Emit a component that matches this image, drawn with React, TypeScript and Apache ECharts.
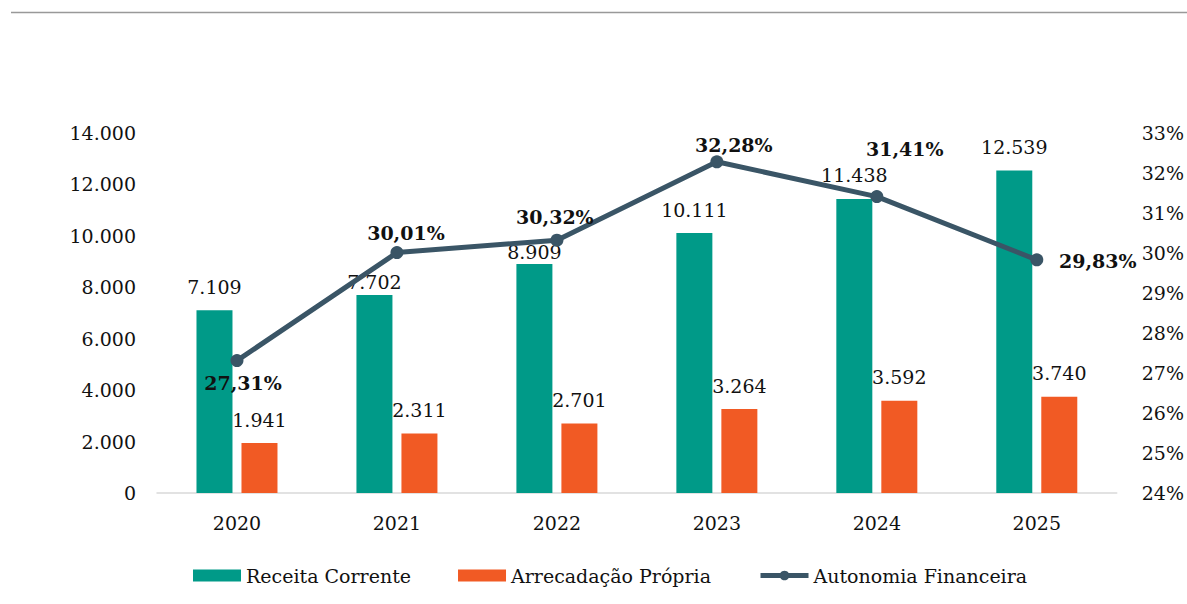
import React, { useEffect, useRef } from "react";
import * as echarts from "echarts";

const categories = ["2020", "2021", "2022", "2023", "2024", "2025"];
const receitaCorrente = [7109, 7702, 8909, 10111, 11438, 12539];
const arrecadacaoPropria = [1941, 2311, 2701, 3264, 3592, 3740];
const autonomiaFinanceira = [27.31, 30.01, 30.32, 32.28, 31.41, 29.83];
const receitaLabelDistance = [14, 3, 2, 14, 14, 14];
const autonomiaLabelOffsets: [number, number][] = [
  [6, 22],
  [9, -20],
  [-2, -23],
  [17, -17],
  [28, -48],
  [61, 1],
];

const FONT = "DejaVu Serif";
const FS = 19;
const fmtThousands = (v: number) =>
  String(Math.round(v)).replace(/\B(?=(\d{3})+(?!\d))/g, ".");
const fmtPct = (v: number) => v.toFixed(2).replace(".", ",") + "%";

export default function App() {
  const ref = useRef<HTMLDivElement>(null);
  useEffect(() => {
    if (!ref.current) return;
    const chart = echarts.init(ref.current, undefined, { renderer: "svg" });
    const option: any = {
      animation: false,
      textStyle: { fontFamily: FONT },
      graphic: [
        {
          type: "line",
          shape: { x1: 11, y1: 12.5, x2: 1187, y2: 12.5 },
          style: { stroke: "#999999", lineWidth: 1.5 },
        },
      ],
      grid: { left: 157, right: 70, top: 133, bottom: 111 },
      legend: {
        left: 188,
        top: 561,
        itemWidth: 48,
        itemHeight: 12,
        itemGap: 47,
        textStyle: { fontFamily: FONT, fontSize: FS, color: "#111" },
        data: [
          { name: "Receita Corrente", icon: "rect" },
          { name: "Arrecadação Própria", icon: "rect" },
          { name: "Autonomia Financeira", lineStyle: { width: 5 } },
        ],
      },
      xAxis: {
        type: "category",
        data: categories,
        axisTick: { show: false },
        axisLine: { lineStyle: { color: "#d9d9d9", width: 1.5 } },
        axisLabel: { fontFamily: FONT, fontSize: FS, color: "#111", margin: 20 },
      },
      yAxis: [
        {
          type: "value",
          min: 0,
          max: 14000,
          interval: 2000,
          splitLine: { show: false },
          axisLine: { show: false },
          axisTick: { show: false },
          axisLabel: {
            fontFamily: FONT,
            fontSize: FS,
            color: "#111",
            margin: 21,
            formatter: (v: number) => fmtThousands(v),
          },
        },
        {
          type: "value",
          min: 24,
          max: 33,
          interval: 1,
          splitLine: { show: false },
          axisLine: { show: false },
          axisTick: { show: false },
          axisLabel: {
            fontFamily: FONT,
            fontSize: FS,
            color: "#111",
            margin: 25,
            formatter: (v: number) => Math.round(v) + "%",
          },
        },
      ],
      series: [
        {
          name: "Receita Corrente",
          type: "bar",
          barWidth: 36,
          barGap: "25%",
          itemStyle: { color: "#009A88" },
          data: receitaCorrente.map((v, i) => ({
            value: v,
            label: { distance: receitaLabelDistance[i] },
          })),
          label: {
            show: true,
            position: "top",
            fontFamily: FONT,
            fontSize: FS,
            color: "#111",
            formatter: (p: any) => fmtThousands(p.value),
          },
        },
        {
          name: "Arrecadação Própria",
          type: "bar",
          barWidth: 36,
          barGap: "25%",
          itemStyle: { color: "#F15A24" },
          data: arrecadacaoPropria,
          label: {
            show: true,
            position: "top",
            distance: 14,
            fontFamily: FONT,
            fontSize: FS,
            color: "#111",
            formatter: (p: any) => fmtThousands(p.value),
          },
        },
        {
          name: "Autonomia Financeira",
          type: "line",
          yAxisIndex: 1,
          symbol: "circle",
          symbolSize: 13,
          lineStyle: { color: "#3A5566", width: 5 },
          itemStyle: { color: "#3A5566" },
          z: 5,
          data: autonomiaFinanceira.map((v, i) => ({
            value: v,
            label: { offset: autonomiaLabelOffsets[i] },
          })),
          label: {
            show: true,
            position: "inside",
            fontFamily: FONT,
            fontSize: FS,
            fontWeight: "bold",
            color: "#111",
            formatter: (p: any) => fmtPct(p.value),
          },
        },
      ],
    };
    chart.setOption(option);
    return () => chart.dispose();
  }, []);
  return (
    <div
      ref={ref}
      style={{ position: "fixed", left: 0, top: 0, width: 1187, height: 604, background: "#fff" }}
    />
  );
}
